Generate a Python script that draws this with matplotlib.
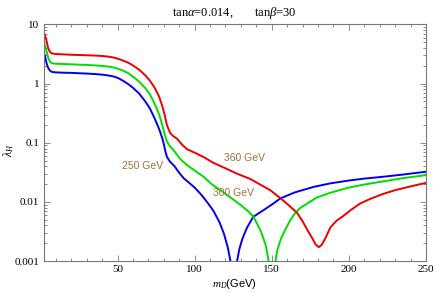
import matplotlib
matplotlib.use("Agg")
import matplotlib.pyplot as plt
from matplotlib.ticker import FixedLocator, LogLocator, NullFormatter, MultipleLocator

plt.rcParams["mathtext.fontset"] = "custom"
plt.rcParams["mathtext.rm"] = "Liberation Serif"
plt.rcParams["mathtext.it"] = "Liberation Serif:italic"

# lambda_H vs m_D for three heavy Higgs masses
x_red = [2, 3, 4, 5, 6, 7, 8, 10, 15, 20, 30, 36, 41, 45, 48, 51, 54, 57, 60, 64,
         68, 71, 74, 77, 79, 80.5, 82, 84, 86, 88.6, 92, 95, 100, 106, 112, 120,
         127.5, 136, 142, 149, 155.7, 161, 166.5, 170, 173, 176, 178.5, 180.5,
         182.5, 185, 188, 192, 196.4, 201, 207, 214, 222, 230, 240, 250]
y_red = [7.4, 6.6, 5.2, 4.0, 3.5, 3.3, 3.22, 3.17, 3.12, 3.08, 3.02, 2.98, 2.92,
         2.84, 2.74, 2.6, 2.43, 2.25, 2.03, 1.72, 1.38, 1.12, 0.86, 0.6, 0.42,
         0.3, 0.2, 0.148, 0.13, 0.117, 0.092, 0.078, 0.068, 0.057, 0.046, 0.037,
         0.030, 0.0245, 0.02, 0.0158, 0.0115, 0.0088, 0.0065, 0.0047, 0.0034,
         0.0025, 0.0019, 0.00172, 0.0019, 0.0025, 0.0037, 0.0048, 0.0058, 0.0072,
         0.0093, 0.0113, 0.0136, 0.0158, 0.0183, 0.021]

x_green = [2, 3, 4, 5, 6, 7, 8, 10, 15, 20, 30, 36, 41, 45, 48, 51, 54, 57, 60,
           64, 68, 71, 74, 77, 79, 80.5, 82, 84, 86, 90.7, 95, 100, 105.8, 111,
           116.7, 125, 130, 134, 138, 142.7, 146, 148, 149.3, 150.2, 151.2, 152.4,
           153.5, 156, 158.5, 162, 165, 168.2, 173, 179, 188, 200, 210, 222, 235,
           250]
y_green = [5.0, 4.4, 3.5, 2.75, 2.4, 2.25, 2.2, 2.17, 2.15, 2.12, 2.07, 2.03,
           1.98, 1.93, 1.86, 1.76, 1.64, 1.5, 1.32, 1.08, 0.84, 0.66, 0.46, 0.3,
           0.2, 0.14, 0.105, 0.087, 0.077, 0.053, 0.042, 0.034, 0.0266, 0.02,
           0.0158, 0.011, 0.0088, 0.0072, 0.0057, 0.0033, 0.0019, 0.001, 0.0005,
           0.0002, 0.0005, 0.001, 0.0015, 0.0024, 0.0033, 0.0049, 0.0064, 0.0078,
           0.0094, 0.0118, 0.0143, 0.0175, 0.0197, 0.0222, 0.0252, 0.0284]

x_blue = [2, 3, 4, 5, 6, 7, 8, 10, 15, 20, 30, 36, 41, 45, 48, 51, 54, 57, 60, 64,
          68, 71, 74, 77, 79, 80, 81, 82, 84, 87, 90, 93, 96, 100, 104, 108, 112,
          116, 119, 121.5, 123.2, 124.5, 125.3, 126.2, 127.5, 129, 131, 134, 138,
          144.8, 150, 155.7, 165, 177.3, 188, 200, 210, 222, 235, 250]
y_blue = [3.5, 2.9, 2.2, 1.85, 1.68, 1.6, 1.57, 1.55, 1.53, 1.52, 1.48, 1.45,
          1.41, 1.36, 1.31, 1.22, 1.1, 0.98, 0.85, 0.68, 0.5, 0.38, 0.26, 0.17,
          0.12, 0.095, 0.072, 0.058, 0.048, 0.040, 0.031, 0.025, 0.0215, 0.0175,
          0.0135, 0.010, 0.0072, 0.0046, 0.0029, 0.0017, 0.001, 0.0005, 0.0002,
          0.0005, 0.001, 0.0016, 0.0024, 0.0037, 0.0056, 0.0073, 0.009, 0.0115,
          0.0145, 0.018, 0.0206, 0.023, 0.0248, 0.0266, 0.029, 0.0324]

curve_labels = ["250 GeV", "300 GeV", "360 GeV"]
label_pos = [(66.4, 0.040), (125.3, 0.0139), (132.3, 0.056)]

y_ticks = [0.001, 0.01, 0.1, 1, 10]
y_ticklabels = ["0.001", "0.01", "0.1", "1", "10"]
x_ticks = [50, 100, 150, 200, 250]

fig = plt.figure(figsize=(4.36, 2.93), dpi=100)
ax = fig.add_axes([0.0998, 0.109, 0.8772, 0.8074])

ax.plot(x_blue, y_blue, color="#0000ee", lw=1.4)
ax.plot(x_green, y_green, color="#00dd00", lw=1.4)
ax.plot(x_red, y_red, color="#ee0000", lw=1.4)

ax.set_yscale("log")
ax.set_xlim(2, 250)
ax.set_ylim(0.001, 10)

ax.xaxis.set_major_locator(FixedLocator(x_ticks))
ax.xaxis.set_minor_locator(MultipleLocator(10))
ax.yaxis.set_major_locator(FixedLocator(y_ticks))
ax.yaxis.set_minor_locator(LogLocator(base=10, subs=range(2, 10)))
ax.yaxis.set_minor_formatter(NullFormatter())
ax.set_yticklabels(y_ticklabels)
ax.set_xticklabels([str(t) for t in x_ticks])

frame_col = "#777777"
for sp in ax.spines.values():
    sp.set_color(frame_col)
    sp.set_linewidth(0.8)
ax.tick_params(which="both", direction="in", top=True, right=True,
               color=frame_col, width=0.6)
ax.tick_params(which="major", length=4, pad=3)
ax.tick_params(which="minor", length=2)
for lab in ax.get_xticklabels() + ax.get_yticklabels():
    lab.set_fontfamily("Liberation Serif")
    lab.set_fontsize(8)

for txt, (tx, ty) in zip(curve_labels, label_pos):
    ax.text(tx, ty, txt, color="#a0703c", fontsize=7.5, family="Liberation Sans",
            ha="center", va="center")

ax.set_title(r"tan$\alpha$=0.014,       tan$\beta$=30", fontfamily="Liberation Serif",
             fontsize=9, pad=6)
ax.set_xlabel(r"$m_D$(GeV)", fontfamily="Liberation Sans", fontsize=8, labelpad=2)
ax.set_ylabel(r"$\lambda_H$", fontsize=8.5)
ax.yaxis.set_label_coords(-0.072, 0.47)

fig.savefig("out.png", dpi=100)
